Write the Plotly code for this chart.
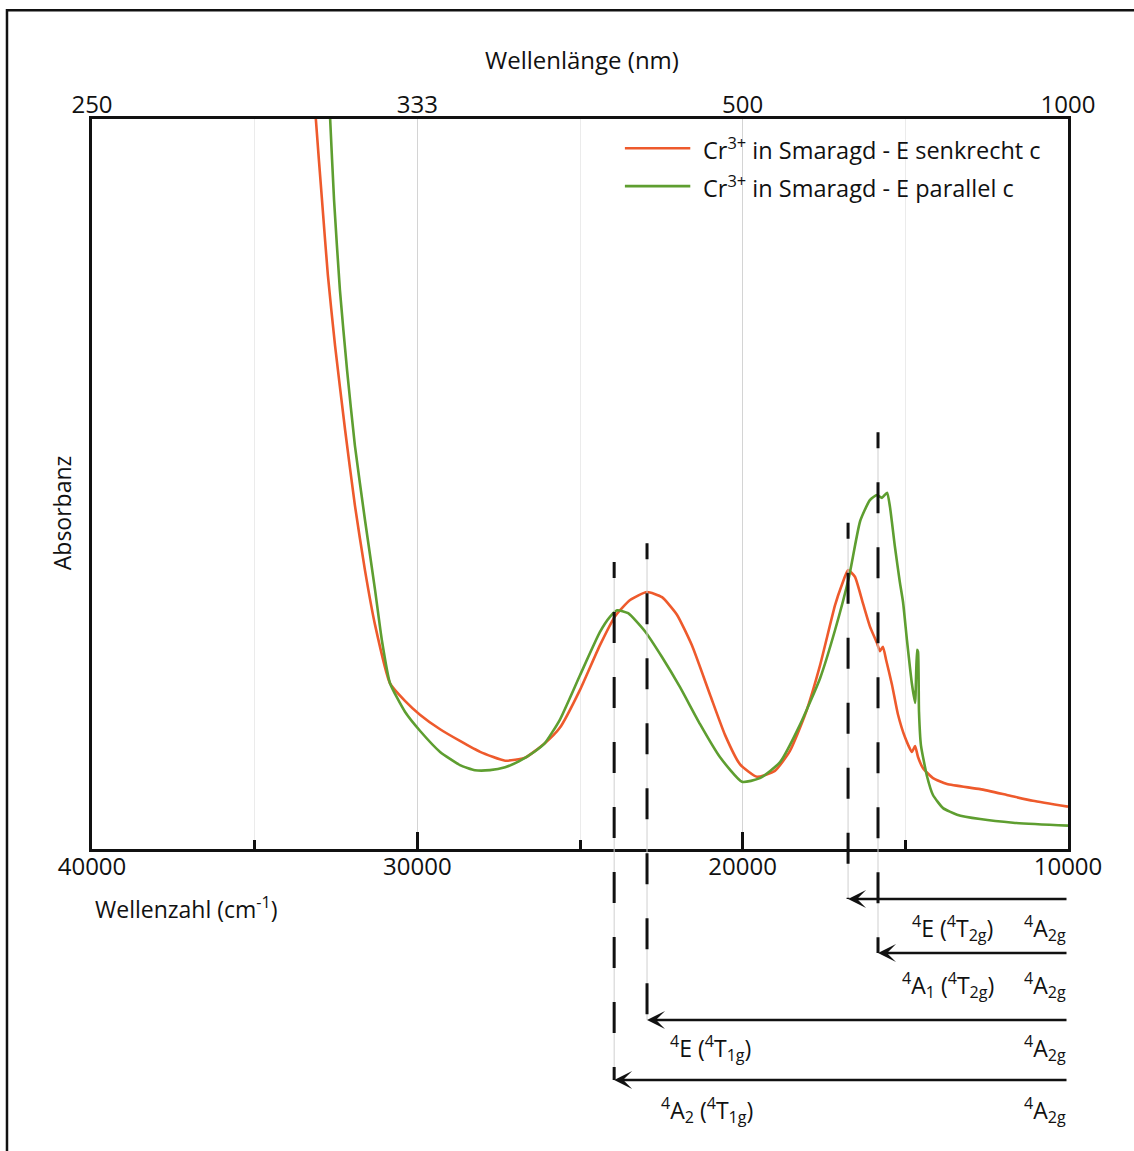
import plotly.graph_objects as go

# Cr3+ in emerald (Smaragd): polarised absorption spectra, arbitrary absorbance units
wavenumber_perp = [33210, 33120, 32930, 32750, 32530, 32220, 31920, 31610, 31300, 30840,
                   30380, 29920, 29300, 28690, 28070, 27300, 26690, 26080, 25620, 25000,
                   24390, 23920, 23460, 22940, 22480, 22020, 21560, 21000, 20540, 20080,
                   19560, 19010, 18550, 18080, 17620, 17160, 16950, 16760, 16550, 16300,
                   16090, 15870, 15780, 15690, 15590, 15410, 15230, 15010, 14800, 14700,
                   14610, 14460, 14150, 13720, 12700, 11880, 11080, 10000]
absorbance_perp = [1.081, 1.000, 0.889, 0.786, 0.690, 0.574, 0.471, 0.382, 0.307, 0.227,
                   0.203, 0.184, 0.164, 0.148, 0.133, 0.121, 0.125, 0.145, 0.166, 0.218,
                   0.279, 0.319, 0.341, 0.352, 0.345, 0.321, 0.279, 0.211, 0.156, 0.116,
                   0.099, 0.107, 0.134, 0.184, 0.252, 0.334, 0.362, 0.382, 0.373, 0.336,
                   0.305, 0.282, 0.271, 0.277, 0.259, 0.225, 0.185, 0.153, 0.133, 0.141,
                   0.126, 0.111, 0.097, 0.089, 0.082, 0.074, 0.066, 0.058]

wavenumber_par = [32780, 32680, 32560, 32380, 32160, 31920, 31610, 31300, 31090, 30840,
                  30380, 29920, 29300, 28690, 28230, 27770, 27300, 26840, 26380, 26080,
                  25620, 25000, 24390, 24080, 23860, 23520, 23000, 22480, 21930, 21310,
                  20700, 20020, 19470, 18850, 18240, 17620, 17160, 16730, 16390, 16090,
                  15870, 15720, 15560, 15470, 15320, 15170, 15070, 14950, 14800, 14700,
                  14640, 14610, 14580, 14520, 14330, 14150, 13840, 13410, 12700, 11690,
                  10000]
absorbance_par = [1.081, 1.000, 0.889, 0.766, 0.656, 0.553, 0.451, 0.355, 0.286, 0.227,
                  0.188, 0.162, 0.133, 0.115, 0.108, 0.108, 0.112, 0.121, 0.134, 0.145,
                  0.177, 0.238, 0.297, 0.318, 0.327, 0.323, 0.298, 0.263, 0.222, 0.171,
                  0.126, 0.092, 0.097, 0.119, 0.170, 0.234, 0.300, 0.373, 0.449, 0.478,
                  0.485, 0.481, 0.488, 0.468, 0.414, 0.366, 0.338, 0.286, 0.227, 0.200,
                  0.273, 0.270, 0.188, 0.142, 0.099, 0.074, 0.056, 0.047, 0.041, 0.036,
                  0.032]

series_names = ["Cr<sup>3+</sup> in Smaragd - E senkrecht c",
                "Cr<sup>3+</sup> in Smaragd - E parallel c"]
series_colors = ["#ee5a2c", "#5e9e30"]

# Bottom axis ticks (cm-1) and the matching wavelengths (nm) for the top axis
wavenumber_ticks = [40000, 30000, 20000, 10000]
wavenumber_text = [str(k) for k in wavenumber_ticks]
wavelength_ticks = [str(round(1e7 / k)) for k in wavenumber_ticks]

# d-d transitions from the 4A2g ground state
transition_wavenumber = [16760, 15840, 22940, 23950]
transition_top = [0.447, 0.571, 0.419, 0.393]          # upper end of dashed marker
transition_level = [-0.0685, -0.1425, -0.2342, -0.3164]  # arrow row (paper units)
transition_state = ["<sup>4</sup>E (<sup>4</sup>T<sub>2g</sub>)",
                    "<sup>4</sup>A<sub>1</sub> (<sup>4</sup>T<sub>2g</sub>)",
                    "<sup>4</sup>E (<sup>4</sup>T<sub>1g</sub>)",
                    "<sup>4</sup>A<sub>2</sub> (<sup>4</sup>T<sub>1g</sub>)"]
ground_state = "<sup>4</sup>A<sub>2g</sub>"
state_label_x = [0.882, 0.877, 0.634, 0.630]
state_label_y = [-0.108, -0.186, -0.273, -0.358]

FONT = "Open Sans, Noto Sans, sans-serif"
INK = "#111111"

fig = go.Figure()
for wn, ab, name, col in [(wavenumber_perp, absorbance_perp, series_names[0], series_colors[0]),
                          (wavenumber_par, absorbance_par, series_names[1], series_colors[1])]:
    fig.add_trace(go.Scatter(x=wn, y=ab, mode="lines", name=name, showlegend=False,
                             line=dict(color=col, width=2.6, shape="spline", smoothing=0.5)))

# invisible trace that carries the wavelength (top) axis
fig.add_trace(go.Scatter(x=wavenumber_ticks, y=[0] * len(wavenumber_ticks), xaxis="x2",
                         mode="markers", marker=dict(opacity=0), showlegend=False,
                         hoverinfo="skip"))

shapes = []
annotations = []

# outer frame of the figure
shapes.append(dict(type="rect", xref="paper", yref="paper", x0=-0.0871, x1=1.1,
                   y0=-0.45, y1=1.149, line=dict(color=INK, width=2.5)))

# dashed markers with a faint guide line underneath, and transition arrows
dash_pattern = ",".join(["16px", "34px"] + ["31px", "34px"] * 16)
for k, top, lev in zip(transition_wavenumber, transition_top, transition_level):
    shapes.append(dict(type="line", xref="x", yref="paper", x0=k, x1=k, y0=top, y1=lev,
                       line=dict(color="#cfcfcf", width=1)))
    shapes.append(dict(type="line", xref="x", yref="paper", x0=k, x1=k, y0=top, y1=lev,
                       line=dict(color=INK, width=3, dash=dash_pattern)))
    annotations.append(dict(x=k, y=lev, xref="x", yref="paper", ax=10000, axref="x",
                            ay=0, ayref="pixel", text="", showarrow=True, arrowhead=3,
                            arrowsize=1.2, arrowwidth=2.5, arrowcolor=INK))

for txt, lx, ly in zip(transition_state, state_label_x, state_label_y):
    annotations.append(dict(x=lx, y=ly, xref="paper", yref="paper", text=txt,
                            showarrow=False, xanchor="center", yanchor="middle",
                            font=dict(size=23, color=INK, family=FONT)))
    annotations.append(dict(x=1.0, y=ly, xref="paper", yref="paper", text=ground_state,
                            showarrow=False, xanchor="right", yanchor="middle",
                            font=dict(size=23, color=INK, family=FONT)))

# legend drawn by hand for the long line samples
for i, (name, col) in enumerate(zip(series_names, series_colors)):
    ly = 0.960 - 0.052 * i
    shapes.append(dict(type="line", xref="paper", yref="paper", x0=0.546, x1=0.613,
                       y0=ly, y1=ly, line=dict(color=col, width=2.6)))
    annotations.append(dict(x=0.624, y=ly, xref="paper", yref="paper", text=name,
                            showarrow=False, xanchor="left", yanchor="middle",
                            font=dict(size=23.5, color=INK, family=FONT)))

# axis titles
annotations.append(dict(x=0.502, y=1.081, xref="paper", yref="paper", text="Wellenlänge (nm)",
                        showarrow=False, xanchor="center", yanchor="middle",
                        font=dict(size=24, color=INK, family=FONT)))
annotations.append(dict(x=0.001, y=-0.081, xref="paper", yref="paper",
                        text="Wellenzahl (cm<sup>-1</sup>)", showarrow=False,
                        xanchor="left", yanchor="middle",
                        font=dict(size=23, color=INK, family=FONT)))
annotations.append(dict(x=-0.0307, y=0.46, xref="paper", yref="paper", text="Absorbanz",
                        showarrow=False, textangle=-90, xanchor="center", yanchor="middle",
                        font=dict(size=23, color=INK, family=FONT)))

fig.update_layout(
    width=1134, height=1151, autosize=False,
    margin=dict(l=92, r=66, t=119, b=302, pad=0),
    paper_bgcolor="white", plot_bgcolor="white",
    font=dict(family=FONT, color=INK),
    showlegend=False,
    xaxis=dict(range=[40000, 10000], tickvals=wavenumber_ticks, ticktext=wavenumber_text,
               ticks="inside", ticklen=17, tickwidth=3, tickcolor=INK, showline=True,
               linewidth=3, linecolor=INK, mirror=True, showgrid=True, gridcolor="#d4d4d4",
               gridwidth=1, zeroline=False, tickfont=dict(size=24, color=INK),
               ticklabelstandoff=-6,
               minor=dict(tick0=40000, dtick=5000, ticks="inside", ticklen=9,
                          tickwidth=3, tickcolor=INK, showgrid=True,
                          gridcolor="#ebebeb", gridwidth=1)),
    xaxis2=dict(range=[40000, 10000], overlaying="x", side="top",
                tickvals=wavenumber_ticks, ticktext=wavelength_ticks, ticks="",
                showline=False, showgrid=False, zeroline=False,
                tickfont=dict(size=24, color=INK)),
    yaxis=dict(range=[0, 1], showticklabels=False, ticks="", showline=True,
               linewidth=3, linecolor=INK, mirror=True, showgrid=False, zeroline=False),
    shapes=shapes,
    annotations=annotations,
)

fig.write_html("out.html")
